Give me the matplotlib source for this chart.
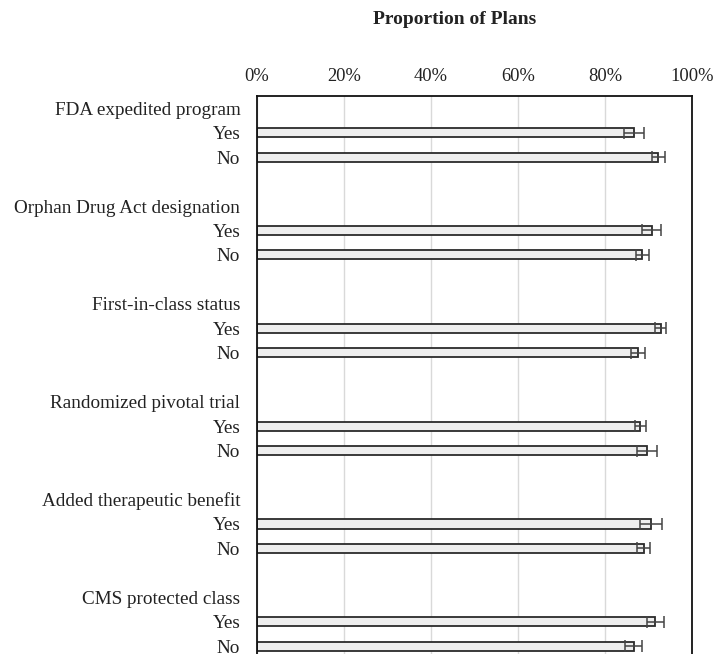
import matplotlib
matplotlib.use("Agg")
import matplotlib.pyplot as plt
import numpy as np

plt.rcParams['font.family'] = ['Liberation Serif', 'DejaVu Serif']

# characteristics and their Yes / No proportions (share of plans covering)
groups = ["FDA expedited program", "Orphan Drug Act designation", "First-in-class status",
          "Randomized pivotal trial", "Added therapeutic benefit", "CMS protected class"]
levels = ["Yes", "No"]
yes_vals = [86.7, 90.7, 92.8, 88.1, 90.5, 91.6]
no_vals = [92.2, 88.6, 87.6, 89.6, 88.9, 86.6]
yes_err = [2.3, 2.2, 1.2, 1.3, 2.5, 2.0]
no_err = [1.5, 1.4, 1.7, 2.3, 1.5, 2.0]

# build row positions: header, Yes, No, blank per group
ypos, vals, errs = [], [], []
tick_pos, tick_lab = [], []
for i, g in enumerate(groups):
    base = 4 * i
    tick_pos.append(base)
    tick_lab.append(g)
    for j, (v, e) in enumerate([(yes_vals[i], yes_err[i]), (no_vals[i], no_err[i])]):
        ypos.append(base + j + 1)
        vals.append(v)
        errs.append(e)
        tick_pos.append(base + j + 1)
        tick_lab.append(levels[j])

fig = plt.figure(figsize=(7.16, 6.54), dpi=100)
ax = fig.add_axes([257 / 716, -0.0443, 435 / 716, 0.8976])

ax.barh(ypos, vals, height=0.37, color='#eeeeee', edgecolor='#2b2b2b', linewidth=1.3, zorder=2)
ax.errorbar(vals, ypos, xerr=errs, fmt='none', ecolor='#444444', elinewidth=1.1,
            capsize=4.5, capthick=1.1, zorder=3)

ax.set_xlim(0, 100)
ax.set_ylim(23.5, -0.5)
ax.set_xticks(np.arange(0, 101, 20))
ax.set_xticklabels([f"{t}%" for t in range(0, 101, 20)])
ax.xaxis.tick_top()
ax.tick_params(axis='x', length=0, pad=8, labelsize=13.3, labelcolor='#222222')
ax.set_yticks(tick_pos)
ax.set_yticklabels(tick_lab)
ax.tick_params(axis='y', length=0, pad=12, labelsize=13.8, labelcolor='#222222')
ax.grid(axis='x', color='#d9d9d9', linewidth=1.0, zorder=0)
ax.set_axisbelow(True)
for s in ['left', 'top', 'right']:
    ax.spines[s].set_color('#111111')
    ax.spines[s].set_linewidth(1.3)
ax.spines['bottom'].set_visible(False)

fig.text(455 / 716, 1 - 20 / 654, "Proportion of Plans", ha='center', va='center',
         fontsize=14, fontweight='bold', color='#222222')

fig.savefig("out.png", dpi=100)
